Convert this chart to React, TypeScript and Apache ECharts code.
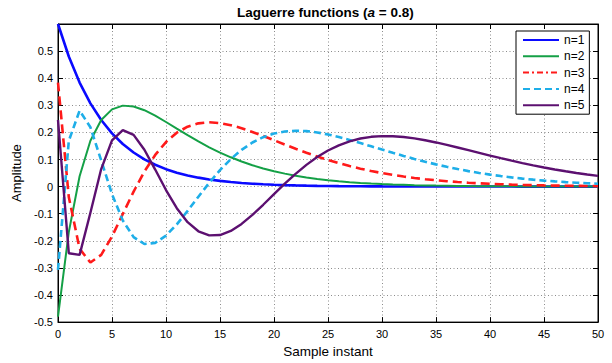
import React, { useEffect, useRef } from "react";
import * as echarts from "echarts";

const sampleInstants = [0,1,2,3,4,5,6,7,8,9,10,11,12,13,14,15,16,17,18,19,20,21,22,23,24,25,26,27,28,29,30,31,32,33,34,35,36,37,38,39,40,41,42,43,44,45,46,47,48,49,50];

const n1 = [0.6,0.48,0.384,0.3072,0.2458,0.1966,0.1573,0.1258,0.1007,0.0805,0.0644,0.0515,0.0412,0.033,0.0264,0.0211,0.0169,0.0135,0.0108,0.0086,0.0069,0.0055,0.0044,0.0035,0.0028,0.0023,0.0018,0.0015,0.0012,0.0009,0.0007,0.0006,0.0005,0.0004,0.0003,0.0002,0.0002,0.0002,0.0001,0.0001,0.0001,0.0001,0.0001,0,0,0,0,0,0,0,0];
const n2 = [-0.48,-0.168,0.0384,0.169,0.2458,0.2851,0.2988,0.2957,0.2819,0.2617,0.2384,0.2139,0.1897,0.1666,0.1451,0.1256,0.1081,0.0925,0.0789,0.067,0.0567,0.0479,0.0403,0.0338,0.0283,0.0237,0.0198,0.0165,0.0137,0.0114,0.0094,0.0078,0.0065,0.0053,0.0044,0.0036,0.003,0.0025,0.002,0.0017,0.0014,0.0011,0.0009,0.0008,0.0006,0.0005,0.0004,0.0003,0.0003,0.0002,0.0002];
const n3 = [0.384,-0.0384,-0.2294,-0.2803,-0.2519,-0.1838,-0.1011,-0.0186,0.0554,0.1168,0.1644,0.1988,0.2212,0.2334,0.2372,0.2344,0.2266,0.2154,0.2017,0.1867,0.171,0.1552,0.1398,0.1251,0.1112,0.0984,0.0866,0.0758,0.0662,0.0575,0.0499,0.0431,0.0371,0.0319,0.0273,0.0233,0.0199,0.017,0.0144,0.0122,0.0104,0.0088,0.0074,0.0062,0.0052,0.0044,0.0037,0.0031,0.0026,0.0022,0.0018];
const n4 = [-0.3072,0.169,0.2803,0.2191,0.0965,-0.0277,-0.1251,-0.1863,-0.2119,-0.2076,-0.1808,-0.1393,-0.0896,-0.0372,0.0139,0.0608,0.1017,0.1357,0.1626,0.1824,0.1958,0.2035,0.2061,0.2047,0.1998,0.1924,0.183,0.1723,0.1607,0.1487,0.1366,0.1247,0.1132,0.1021,0.0917,0.082,0.073,0.0648,0.0572,0.0504,0.0443,0.0388,0.0339,0.0295,0.0256,0.0222,0.0192,0.0166,0.0143,0.0123,0.0106];
const n5 = [0.2458,-0.2458,-0.2519,-0.0965,0.0647,0.1704,0.2087,0.1909,0.1359,0.0629,-0.0126,-0.0795,-0.1312,-0.1648,-0.1801,-0.1788,-0.1636,-0.1378,-0.1045,-0.067,-0.0279,0.0108,0.0472,0.0802,0.1089,0.1331,0.1524,0.1671,0.1774,0.1837,0.1864,0.186,0.1829,0.1778,0.171,0.1629,0.1539,0.1444,0.1345,0.1245,0.1146,0.1049,0.0956,0.0868,0.0784,0.0706,0.0633,0.0566,0.0504,0.0448,0.0397];

const seriesNames = ["n=1", "n=2", "n=3", "n=4", "n=5"];
const seriesValues = [n1, n2, n3, n4, n5];
const seriesColors = ["#0a0aff", "#14a046", "#ff1a1a", "#1eaee8", "#5c1070"];
const seriesWidths = [2.6, 2, 2.6, 2.6, 2.4];
const seriesDash: any[] = ["solid", "solid", [9, 5], [7, 4], "solid"];
const legendDash: any[] = ["solid", "solid", [6, 3, 2, 3], [7, 4], "solid"];

const xTickStep = 5;
const yTickStep = 0.1;

const FONT = 'Arial, "Liberation Sans", Helvetica, sans-serif';

export default function App() {
  const ref = useRef<HTMLDivElement>(null);
  useEffect(() => {
    if (!ref.current) return;
    const chart = echarts.init(ref.current, undefined, { renderer: "svg" });
    const tickStyle = { show: true, inside: true, length: 5, lineStyle: { color: "#000", width: 1 } };
    const frameLine = { show: true, onZero: false, lineStyle: { color: "#000", width: 1 } };
    const option: any = {
      animation: false,
      backgroundColor: "#fff",
      title: {
        text: "{n|Laguerre functions (}{i|a}{n| = 0.8)}",
        left: 237,
        top: 5,
        padding: 0,
        textStyle: {
          rich: {
            n: { fontFamily: FONT, fontWeight: "bold", fontSize: 13.5, color: "#000" },
            i: { fontFamily: FONT, fontWeight: "bold", fontStyle: "italic", fontSize: 13.5, color: "#000" },
          },
        },
      },
      grid: { left: 58, right: 14, top: 24, bottom: 39, show: true, borderColor: "#000", borderWidth: 1, backgroundColor: "#fff" },
      legend: {
        orient: "vertical",
        left: 516,
        top: 31,
        padding: [3, 5, 3, 6],
        itemGap: 4.3,
        itemWidth: 36,
        itemHeight: 10,
        backgroundColor: "#fff",
        borderColor: "#000",
        borderWidth: 1,
        borderRadius: 0,
        itemStyle: { opacity: 0 },
        textStyle: { fontFamily: FONT, fontSize: 12, color: "#000", lineHeight: 10 },
        data: seriesNames.map((name, i) => ({
          name,
          lineStyle: { type: legendDash[i] },
        })),
      },
      xAxis: [
        {
          type: "value",
          min: 0,
          max: 50,
          interval: xTickStep,
          name: "Sample instant",
          nameLocation: "middle",
          nameGap: 21,
          nameTextStyle: { fontFamily: FONT, fontSize: 13.5, color: "#000" },
          axisLine: frameLine,
          axisTick: tickStyle,
          axisLabel: { fontFamily: FONT, fontSize: 11, color: "#000", margin: 6 },
          splitLine: { show: true, lineStyle: { color: "#8c8c8c", type: [1, 2.5], width: 1 } },
        },
        {
          type: "value",
          position: "top",
          min: 0,
          max: 50,
          interval: xTickStep,
          axisLine: frameLine,
          axisTick: tickStyle,
          axisLabel: { show: false },
          splitLine: { show: false },
        },
      ],
      yAxis: [
        {
          type: "value",
          min: -0.5,
          max: 0.6,
          interval: yTickStep,
          name: "Amplitude",
          nameLocation: "middle",
          nameGap: 31,
          nameTextStyle: { fontFamily: FONT, fontSize: 13, color: "#000" },
          axisLine: frameLine,
          axisTick: tickStyle,
          axisLabel: {
            fontFamily: FONT,
            fontSize: 11,
            color: "#000",
            margin: 5,
            formatter: (v: number) => {
              const r = Math.round(v * 10) / 10;
              if (r > 0.55) return "";
              return String(r);
            },
          },
          splitLine: { show: true, lineStyle: { color: "#8c8c8c", type: [1, 2.5], width: 1 } },
        },
        {
          type: "value",
          position: "right",
          min: -0.5,
          max: 0.6,
          interval: yTickStep,
          axisLine: frameLine,
          axisTick: tickStyle,
          axisLabel: { show: false },
          splitLine: { show: false },
        },
      ],
      series: seriesNames.map((name, i) => ({
        name,
        type: "line",
        xAxisIndex: 0,
        yAxisIndex: 0,
        showSymbol: false,
        symbol: "none",
        color: seriesColors[i],
        lineStyle: { color: seriesColors[i], width: seriesWidths[i], type: seriesDash[i] },
        data: sampleInstants.map((k, j) => [k, seriesValues[i][j]]),
      })),
    };
    chart.setOption(option);
    return () => chart.dispose();
  }, []);
  return <div ref={ref} style={{ position: "fixed", left: 0, top: 0, width: 612, height: 363 }} />;
}
